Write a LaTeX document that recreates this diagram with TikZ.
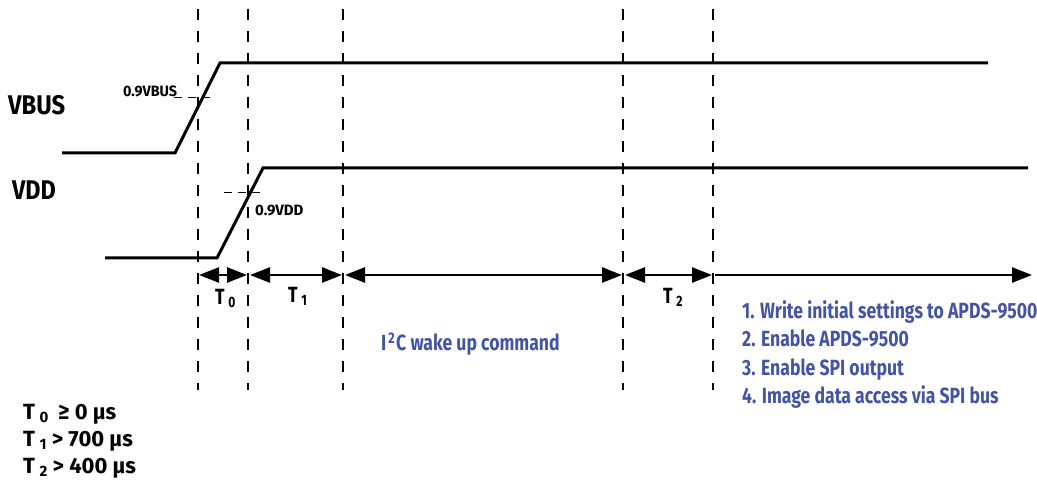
\documentclass[tikz,border=0pt]{standalone}
\usepackage{fontspec}
\setmainfont{Fira Sans}[FakeStretch=0.8]
\usetikzlibrary{arrows.meta}
\definecolor{navy}{RGB}{68,84,164}
\tikzset{
  wave/.style={line width=3pt},
  guide/.style={line width=1.2pt,dash pattern=on 11pt off 11pt},
  thr/.style={line width=1pt,dash pattern=on 8pt off 6pt},
  span/.style={line width=2.5pt,{Triangle[length=20pt,width=15pt]}-{Triangle[length=20pt,width=15pt]}},
  lbl/.style={font=\bfseries\fontsize{27}{30}\selectfont,anchor=base west,inner sep=0pt},
  small/.style={font=\bfseries\fontsize{15}{18}\selectfont,anchor=base west,inner sep=0pt},
  tl/.style={font=\bfseries\fontsize{22}{26}\selectfont,anchor=base west,inner sep=0pt},
  note/.style={font=\bfseries\fontsize{22}{28}\selectfont,text=navy,anchor=base west,inner sep=0pt},
}
\newcommand{\Tsub}[1]{T\,\raisebox{-3pt}{\fontsize{15}{18}\selectfont #1}}
\newcommand{\wide}[2]{\scalebox{#1}[1]{#2}}
\begin{document}
\begin{tikzpicture}[x=1pt,y=-1pt]
\useasboundingbox (0,0) rectangle (1037,481);
% guides
\foreach \n/\x in {g0/198,g1/248,g2/343,g3/623,g4/713}{
  \coordinate (\n t) at (\x,9);
  \coordinate (\n b) at (\x,390);
  \draw[guide] (\n t) -- (\n b);
}
% VBUS
\coordinate (vb0) at (62,153);
\coordinate (vb1) at (175,153);
\coordinate (vb2) at (220,63);
\coordinate (vb3) at (988,63);
\draw[wave,line join=miter] (vb0) -- (vb1) -- (vb2) -- (vb3);
\coordinate (tb0) at (174,98);
\coordinate (tb1) at (212,98);
\draw[thr] (tb0) -- (tb1);
% VDD
\coordinate (vd0) at (105,258);
\coordinate (vd1) at (217,258);
\coordinate (vd2) at (263,168);
\coordinate (vd3) at (1028,168);
\draw[wave,line join=miter] (vd0) -- (vd1) -- (vd2) -- (vd3);
\coordinate (td0) at (224,193);
\coordinate (td1) at (264,193);
\draw[thr] (td0) -- (td1);
% labels
\node[lbl] (vbus) at (8,115) {\wide{1.1}{VBUS}};
\node[lbl] (vdd) at (12,200) {\wide{1.08}{VDD}};
\node[small] (vbth) at (123,97) {\wide{1.2}{0.9VBUS}};
\node[small] (vdth) at (255,216) {\wide{1.25}{0.9VDD}};
% spans
\coordinate (a0) at (199,275);
\coordinate (a1) at (247,275);
\coordinate (a2) at (250,275);
\coordinate (a3) at (342,275);
\coordinate (a4) at (345,275);
\coordinate (a5) at (622,275);
\coordinate (a6) at (625,275);
\coordinate (a7) at (712,275);
\coordinate (a8) at (715,275);
\coordinate (a9) at (1032,275);
\draw[span] (a0) -- (a1);
\draw[span] (a2) -- (a3);
\draw[span] (a4) -- (a5);
\draw[span] (a6) -- (a7);
\draw[line width=2.5pt,-{Triangle[length=20pt,width=15pt]}] (a8) -- (a9);
\node[tl] (t0) at (215,305) {\Tsub{0}};
\node[tl] (t1) at (288,302) {\Tsub{1}};
\node[tl] (t2) at (663,304) {\Tsub{2}};
\node[tl,text=navy] (i2c) at (381,351) {I\kern2pt\textsuperscript{2}\kern1pt C wake up command};
\node[note] (s1) at (742,319) {1. Write initial settings to APDS-9500};
\node[note] (s2) at (742,347) {2. Enable APDS-9500};
\node[note] (s3) at (742,375) {3. Enable SPI output};
\node[note] (s4) at (742,403) {4. Image data access via SPI bus};
\node[tl] (c0) at (23,419) {\wide{1.25}{\Tsub{0}\ \,≥ 0 µs}};
\node[tl] (c1) at (23,446) {\wide{1.25}{\Tsub{1} > 700 µs}};
\node[tl] (c2) at (23,473) {\wide{1.25}{\Tsub{2} > 400 µs}};
\end{tikzpicture}
\end{document}
